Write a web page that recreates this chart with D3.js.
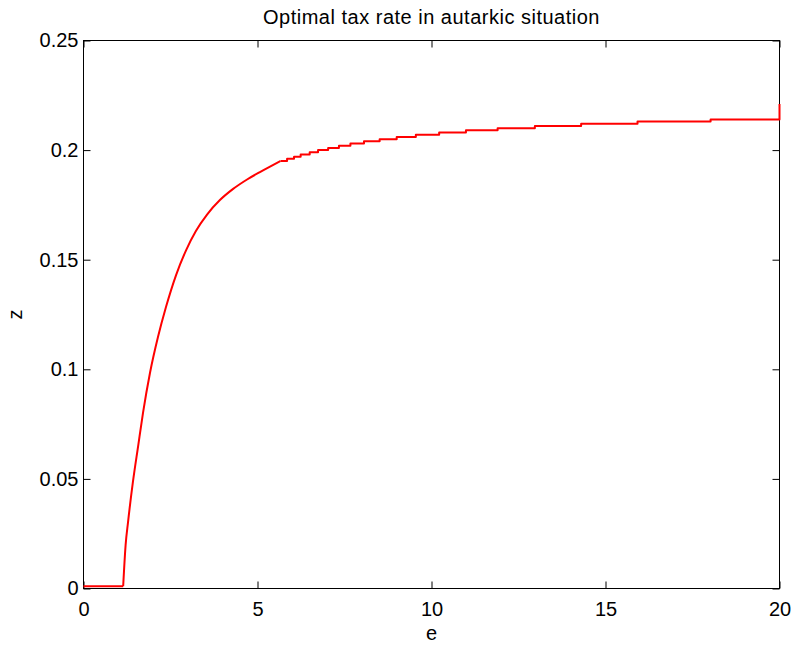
<!DOCTYPE html>
<html>
<head>
<meta charset="utf-8">
<script src="https://cdn.jsdelivr.net/npm/d3@7"></script>
<style>
  body { margin: 0; background: #fff; }
  text { font-family: "Liberation Sans", Arial, Helvetica, sans-serif; fill: #000; }
</style>
</head>
<body>
<svg id="chart" width="796" height="647"></svg>
<script>
// Labels and ticks
const chartTitle = "Optimal tax rate in autarkic situation";
const xLabel = "e";
const yLabel = "z";
const xTicks = [0, 5, 10, 15, 20];
const yTicks = [0, 0.05, 0.1, 0.15, 0.2, 0.25];
const yTickLabels = ["0", "0.05", "0.1", "0.15", "0.2", "0.25"];

// Flat start and steep rise of the optimal rate z as e grows
const riseE = [0, 1.14, 1.21, 1.28, 1.42, 1.57, 1.71, 1.91, 2.14, 2.37, 2.66, 2.95, 3.23,
               3.55, 3.92, 4.30, 4.70, 5.07, 5.36, 5.66];
const riseZ = [0.001, 0.001, 0.0198, 0.0303, 0.0486, 0.0650, 0.0801, 0.0983, 0.1147, 0.1284,
               0.1430, 0.1544, 0.1631, 0.1706, 0.1772, 0.1823, 0.1866, 0.1900, 0.1925, 0.1950];

// Flat part: z moves on a 0.001 grid; each entry is the e where a level starts
const stepE = [5.66, 5.85, 6.05, 6.24, 6.50, 6.74, 7.03, 7.34, 7.67, 8.06, 8.51, 9.00,
               9.55, 10.22, 10.99, 11.90, 12.97, 14.30, 15.92, 18.02, 20, 20];
const stepZ = [0.195, 0.196, 0.197, 0.198, 0.199, 0.200, 0.201, 0.202, 0.203, 0.204, 0.205,
               0.206, 0.207, 0.208, 0.209, 0.210, 0.211, 0.212, 0.213, 0.214, 0.214, 0.221];

const svg = d3.select("#chart");
const plotL = 83.5, plotR = 779.5, plotT = 40.5, plotB = 588.5;

const x = d3.scaleLinear().domain([0, 20]).range([plotL, plotR]);
const y = d3.scaleLinear().domain([0, 0.25]).range([plotB, plotT]);

svg.append("rect").attr("width", 796).attr("height", 647).attr("fill", "#fff");

const tickLen = 7;
const fontSize = 20;

// Axes with inward ticks on all four sides
const axB = svg.append("g").attr("transform", `translate(0,${plotB})`)
  .call(d3.axisBottom(x).tickValues(xTicks).tickSize(-tickLen).tickPadding(13).tickFormat(d3.format("d")));
const axT = svg.append("g").attr("transform", `translate(0,${plotT})`)
  .call(d3.axisTop(x).tickValues(xTicks).tickSize(-tickLen).tickFormat(""));
const axL = svg.append("g").attr("transform", `translate(${plotL},0)`)
  .call(d3.axisLeft(y).tickValues(yTicks).tickSize(-tickLen).tickPadding(5)
    .tickFormat((d, i) => yTickLabels[i]));
const axR = svg.append("g").attr("transform", `translate(${plotR},0)`)
  .call(d3.axisRight(y).tickValues(yTicks).tickSize(-tickLen).tickFormat(""));

[axB, axT, axL, axR].forEach(g => {
  g.select(".domain").remove();
  g.selectAll(".tick line").attr("stroke", "#000").attr("stroke-width", 1);
  g.selectAll("text")
    .style("font-family", '"Liberation Sans", Arial, sans-serif')
    .style("font-size", fontSize + "px")
    .attr("fill", "#000");
});

// Box
svg.append("rect")
  .attr("x", plotL).attr("y", plotT)
  .attr("width", plotR - plotL).attr("height", plotB - plotT)
  .attr("fill", "none").attr("stroke", "#000").attr("stroke-width", 1);

// Curve: flat start (straight), smooth rise, then the 0.001 staircase
const risePts = riseE.map((e, i) => [e, riseZ[i]]);
const stepPts = stepE.map((e, i) => [e, stepZ[i]]);
const lineStyle = p => p.attr("fill", "none").attr("stroke", "#ff0000")
  .attr("stroke-width", 2).attr("stroke-linejoin", "round");

svg.append("path")
  .attr("d", d3.line().x(d => x(d[0])).y(d => y(d[1]))(risePts.slice(0, 2)))
  .call(lineStyle);

svg.append("path")
  .attr("d", d3.line().curve(d3.curveMonotoneX).x(d => x(d[0])).y(d => y(d[1]))(risePts.slice(1)))
  .call(lineStyle);

svg.append("path")
  .attr("d", d3.line().curve(d3.curveStepAfter).x(d => x(d[0])).y(d => y(d[1]))(stepPts))
  .call(lineStyle);

// Title and axis labels
svg.append("text")
  .attr("x", (plotL + plotR) / 2).attr("y", 24)
  .attr("text-anchor", "middle")
  .style("font-size", fontSize + "px")
  .style("letter-spacing", "0.5px")
  .text(chartTitle);

svg.append("text")
  .attr("x", (plotL + plotR) / 2).attr("y", 640)
  .attr("text-anchor", "middle")
  .style("font-size", fontSize + "px")
  .text(xLabel);

svg.append("text")
  .attr("transform", `translate(21.5,${(plotT + plotB) / 2}) rotate(-90)`)
  .attr("text-anchor", "middle")
  .style("font-size", fontSize + "px")
  .text(yLabel);
</script>
</body>
</html>
